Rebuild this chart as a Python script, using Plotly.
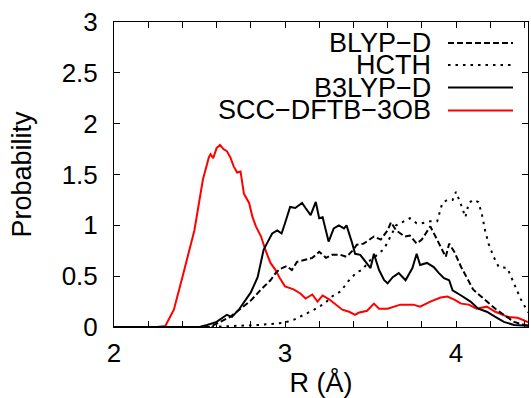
import plotly.graph_objects as go

# ---- data ----
scc_r = [2.00, 2.25, 2.30, 2.35, 2.40, 2.44, 2.47, 2.52, 2.535, 2.555, 2.565, 2.58, 2.60, 2.62, 2.64,
         2.66, 2.68, 2.70, 2.72, 2.74, 2.76, 2.79, 2.81, 2.83, 2.86, 2.885, 2.915, 2.945, 2.97, 3.00,
         3.05, 3.09, 3.12, 3.16, 3.19, 3.22, 3.26, 3.295, 3.335, 3.375, 3.41, 3.43, 3.48, 3.52, 3.55,
         3.60, 3.64, 3.675, 3.71, 3.75, 3.79, 3.85, 3.91, 3.95, 3.99, 4.03, 4.075, 4.12, 4.18, 4.23,
         4.26, 4.30, 4.36, 4.42, 4.45]
scc_p = [0, 0, 0.01, 0.17, 0.49, 0.76, 0.95, 1.45, 1.54, 1.67, 1.70, 1.66, 1.76, 1.79, 1.75,
         1.73, 1.67, 1.58, 1.52, 1.53, 1.31, 1.22, 1.08, 0.99, 0.89, 0.76, 0.63, 0.56, 0.48, 0.40,
         0.37, 0.33, 0.28, 0.32, 0.25, 0.31, 0.27, 0.22, 0.17, 0.15, 0.12, 0.14, 0.16, 0.23, 0.18,
         0.18, 0.20, 0.22, 0.22, 0.22, 0.20, 0.25, 0.29, 0.30, 0.27, 0.23, 0.22, 0.18, 0.20, 0.15,
         0.13, 0.10, 0.09, 0.05, 0.04]

b3lyp_r = [2.00, 2.50, 2.545, 2.60, 2.66, 2.69, 2.73, 2.77, 2.80, 2.84, 2.875, 2.90, 2.925, 2.955,
           2.98, 3.00, 3.03, 3.06, 3.10, 3.12, 3.15, 3.18, 3.20, 3.22, 3.24, 3.255, 3.285, 3.315,
           3.345, 3.36, 3.39, 3.41, 3.44, 3.47, 3.50, 3.52, 3.55, 3.58, 3.60, 3.63, 3.665, 3.705,
           3.745, 3.77, 3.79, 3.83, 3.87, 3.90, 3.93, 3.96, 3.98, 4.03, 4.085, 4.13, 4.18, 4.23,
           4.28, 4.34, 4.42, 4.45]
b3lyp_p = [0, 0, 0.02, 0.05, 0.12, 0.10, 0.17, 0.27, 0.34, 0.49, 0.76, 0.84, 0.92, 0.95,
           0.92, 1.02, 1.18, 1.17, 1.22, 1.17, 1.10, 1.23, 1.07, 1.08, 0.95, 0.84, 0.97, 1.00,
           0.97, 1.00, 0.84, 0.72, 0.71, 0.64, 0.58, 0.72, 0.56, 0.46, 0.43, 0.49, 0.53, 0.46,
           0.58, 0.72, 0.61, 0.63, 0.59, 0.53, 0.48, 0.46, 0.36, 0.31, 0.25, 0.18, 0.15, 0.10,
           0.05, 0.02, 0.01, 0.01]

blyp_r = [2.00, 2.56, 2.62, 2.68, 2.74, 2.80, 2.855, 2.915, 2.945, 2.97, 3.01, 3.04, 3.07, 3.11,
          3.16, 3.20, 3.24, 3.275, 3.325, 3.36, 3.40, 3.42, 3.46, 3.52, 3.56, 3.60, 3.62, 3.65,
          3.675, 3.70, 3.73, 3.77, 3.80, 3.85, 3.88, 3.91, 3.94, 3.96, 3.99, 4.03, 4.07, 4.10,
          4.14, 4.18, 4.23, 4.28, 4.34, 4.40, 4.45]
blyp_p = [0, 0, 0.05, 0.10, 0.18, 0.26, 0.36, 0.46, 0.53, 0.57, 0.60, 0.56, 0.64, 0.66,
          0.68, 0.74, 0.68, 0.71, 0.71, 0.69, 0.76, 0.81, 0.82, 0.89, 0.86, 0.95, 1.03, 0.95,
          0.92, 0.89, 0.90, 0.82, 0.86, 0.99, 0.89, 0.79, 0.69, 0.82, 0.74, 0.59, 0.46, 0.37,
          0.31, 0.25, 0.18, 0.12, 0.05, 0.02, 0.01]

hcth_r = [2.00, 2.55, 2.70, 2.85, 2.99, 3.05, 3.11, 3.17, 3.23, 3.275, 3.325, 3.37, 3.42, 3.45,
          3.50, 3.54, 3.58, 3.62, 3.65, 3.695, 3.73, 3.77, 3.80, 3.85, 3.89, 3.92, 3.95, 3.98,
          4.00, 4.03, 4.055, 4.075, 4.10, 4.13, 4.15, 4.17, 4.19, 4.22, 4.25, 4.30, 4.34, 4.38,
          4.42, 4.45]
hcth_p = [0, 0, 0.01, 0.02, 0.04, 0.07, 0.12, 0.17, 0.23, 0.30, 0.35, 0.45, 0.54, 0.56,
          0.66, 0.71, 0.77, 0.90, 1.00, 1.04, 1.07, 1.02, 1.02, 1.04, 1.04, 1.22, 1.25, 1.25,
          1.33, 1.20, 1.08, 1.22, 1.25, 1.23, 1.12, 0.95, 0.82, 0.69, 0.59, 0.58, 0.43, 0.27,
          0.15, 0.10]

x_tickvals = [2.0, 2.2, 2.4, 2.6, 2.8, 3.0, 3.2, 3.4, 3.6, 3.8, 4.0, 4.2, 4.4]
x_ticktext = ["2", "", "", "", "", "3", "", "", "", "", "4", "", ""]
y_tickvals = [0, 0.5, 1, 1.5, 2, 2.5, 3]
y_ticktext = ["0", "0.5", "1", "1.5", "2", "2.5", "3"]

series_names = ["BLYP−D", "HCTH", "B3LYP−D", "SCC−DFTB−3OB"]

# ---- styles ----
FONT = "Liberation Sans, Arial, Helvetica, sans-serif"
DASH = "6px,3px"
DOT = "2.5px,5px"
styles = [
    dict(color="black", dash=DASH),
    dict(color="black", dash=DOT),
    dict(color="black", dash="solid"),
    dict(color="#ff0000", dash="solid"),
]
data = [(blyp_r, blyp_p), (hcth_r, hcth_p), (b3lyp_r, b3lyp_p), (scc_r, scc_p)]

fig = go.Figure()
for idx in [3, 0, 1, 2]:
    r, p = data[idx]
    fig.add_trace(go.Scatter(
        x=r, y=p, mode="lines", name=series_names[idx], showlegend=False,
        line=dict(color=styles[idx]["color"], dash=styles[idx]["dash"], width=2),
    ))

W, H = 531, 398
ml, mr, mt, mb = 114, 3, 22, 71
pw, ph = W - ml - mr, H - mt - mb

axis_common = dict(
    showline=True, linecolor="black", linewidth=1, mirror="ticks",
    ticks="inside", ticklen=6, tickcolor="black", tickwidth=1,
    showgrid=False, zeroline=False,
    tickfont=dict(family=FONT, size=26, color="black"),
)

fig.update_layout(
    width=W, height=H,
    margin=dict(l=ml, r=mr, t=mt, b=mb),
    paper_bgcolor="white", plot_bgcolor="white",
    font=dict(family=FONT, color="black"),
    xaxis=dict(range=[2, 2 + pw / 171.0], tickmode="array", tickvals=x_tickvals,
               ticktext=x_ticktext, ticklabelstandoff=3,
               title=dict(text="R (Å)", font=dict(family=FONT, size=27), standoff=4),
               **axis_common),
    yaxis=dict(range=[0, 3], tickmode="array", tickvals=y_tickvals, ticktext=y_ticktext,
               ticklabelstandoff=10,
               title=dict(text="Probability", font=dict(family=FONT, size=27), standoff=22),
               **axis_common),
)

# custom legend (text left of line sample, as in the reference)
row_y = [43, 65, 87.5, 110.5]
text_right = 433
samp_x0, samp_x1 = 448, 513
for i, name in enumerate(series_names):
    yp = 1 - (row_y[i] - mt) / ph
    fig.add_annotation(
        xref="paper", yref="paper", x=(text_right - ml) / pw, y=yp,
        text=name, showarrow=False, xanchor="right", yanchor="middle",
        font=dict(family=FONT, size=27, color="black"),
    )
    fig.add_shape(
        type="line", xref="paper", yref="paper",
        x0=(samp_x0 - ml) / pw, x1=(samp_x1 - ml) / pw, y0=yp, y1=yp,
        line=dict(color=styles[i]["color"], dash=styles[i]["dash"], width=2),
    )

fig.write_html("out.html", config={"displayModeBar": False},
               post_script="document.body.style.margin='0px';")
